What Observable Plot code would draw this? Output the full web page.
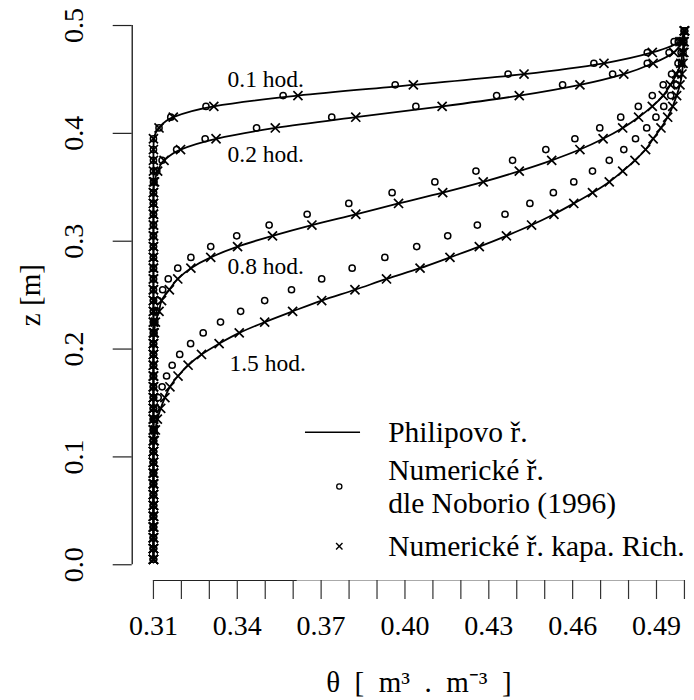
<!DOCTYPE html>
<html><head><meta charset="utf-8">
<script src="https://cdn.jsdelivr.net/npm/d3@7"></script>
<script src="https://cdn.jsdelivr.net/npm/@observablehq/plot@0.6"></script>
<style>body{margin:0;background:#fff;} #chart svg{display:block}</style>
</head><body><div id="chart"></div>
<script>
// depth levels (top to bottom), m
const zLevels = [
0.495,0.485,0.475,0.465,0.455,0.445,0.435,0.425,0.415,0.405,
0.395,0.385,0.375,0.365,0.355,0.345,0.335,0.325,0.315,0.305,
0.295,0.285,0.275,0.265,0.255,0.245,0.235,0.225,0.215,0.205,
0.195,0.185,0.175,0.165,0.155,0.145,0.135,0.125,0.115,0.105,
0.095,0.085,0.075,0.065,0.055,0.045,0.035,0.025,0.015,0.005];

const times = ["0.1 hod.", "0.2 hod.", "0.8 hod.", "1.5 hod."];

// Philip solution (line)
const philip01 = [
0.500,0.4982,0.4885,0.4712,0.4426,0.4030,0.3617,0.3316,0.3171,0.3120,
0.3102,0.310,0.310,0.310,0.310,0.310,0.310,0.310,0.310,0.310,
0.310,0.310,0.310,0.310,0.310,0.310,0.310,0.310,0.310,0.310,
0.310,0.310,0.310,0.310,0.310,0.310,0.310,0.310,0.310,0.310,
0.310,0.310,0.310,0.310,0.310,0.310,0.310,0.310,0.310,0.310];
const philip02 = [
0.500,0.4991,0.4962,0.4888,0.4783,0.4626,0.4409,0.4133,0.3824,0.3536,
0.3324,0.3197,0.3138,0.3115,0.3104,0.310,0.310,0.310,0.310,0.310,
0.310,0.310,0.310,0.310,0.310,0.310,0.310,0.310,0.310,0.310,
0.310,0.310,0.310,0.310,0.310,0.310,0.310,0.310,0.310,0.310,
0.310,0.310,0.310,0.310,0.310,0.310,0.310,0.310,0.310,0.310];
const philip08 = [
0.500,0.4997,0.4993,0.4987,0.4972,0.4950,0.4924,0.4885,0.4836,0.4779,
0.4709,0.4626,0.4525,0.4409,0.4280,0.4135,0.3977,0.3824,0.3667,0.3526,
0.3401,0.3305,0.3234,0.3187,0.3157,0.3129,0.3120,0.3107,0.3103,0.310,
0.310,0.310,0.310,0.310,0.310,0.310,0.310,0.310,0.310,0.310,
0.310,0.310,0.310,0.310,0.310,0.310,0.310,0.310,0.310,0.310];
const philip15 = [
0.500,0.4999,0.4998,0.4995,0.4991,0.4984,0.4972,0.4958,0.4940,0.4916,
0.4888,0.4861,0.4823,0.4779,0.4731,0.4671,0.4604,0.4533,0.4453,0.4363,
0.4266,0.4161,0.4054,0.3934,0.3821,0.3702,0.3598,0.3498,0.3407,0.3335,
0.3272,0.3224,0.3188,0.3159,0.3141,0.3126,0.3114,0.3107,0.3103,0.310,
0.310,0.310,0.310,0.310,0.310,0.310,0.310,0.310,0.310,0.310];

// Numerical solution after Noborio (1996) (circles)
const noborio01 = [
0.500,0.4963,0.4867,0.4676,0.4369,0.3965,0.3564,0.3288,0.3162,0.3120,
0.310,0.310,0.310,0.310,0.310,0.310,0.310,0.310,0.310,0.310,
0.310,0.310,0.310,0.310,0.310,0.310,0.310,0.310,0.310,0.310,
0.310,0.310,0.310,0.310,0.310,0.310,0.310,0.310,0.310,0.310,
0.310,0.310,0.310,0.310,0.310,0.310,0.310,0.310,0.310,0.310];
const noborio02 = [
0.500,0.4978,0.4945,0.4867,0.4743,0.4564,0.4328,0.4039,0.3738,0.3469,
0.3285,0.3183,0.3131,0.3112,0.3102,0.310,0.310,0.310,0.310,0.310,
0.310,0.310,0.310,0.310,0.310,0.310,0.310,0.310,0.310,0.310,
0.310,0.310,0.310,0.310,0.310,0.310,0.310,0.310,0.310,0.310,
0.310,0.310,0.310,0.310,0.310,0.310,0.310,0.310,0.310,0.310];
const noborio08 = [
0.500,0.4995,0.4988,0.4977,0.4954,0.4924,0.4885,0.4835,0.4772,0.4697,
0.4608,0.4504,0.4385,0.4254,0.4107,0.3954,0.3799,0.3650,0.3514,0.3398,
0.3305,0.3234,0.3187,0.3153,0.3133,0.3117,0.3111,0.3105,0.3102,0.310,
0.310,0.310,0.310,0.310,0.310,0.310,0.310,0.310,0.310,0.310,
0.310,0.310,0.310,0.310,0.310,0.310,0.310,0.310,0.310,0.310];
const noborio15 = [
0.500,0.4998,0.4995,0.4990,0.4982,0.4972,0.4951,0.4926,0.4898,0.4865,
0.4825,0.4783,0.4731,0.4671,0.4604,0.4531,0.4447,0.4358,0.4259,0.4153,
0.4042,0.3928,0.3811,0.3702,0.3594,0.3498,0.3412,0.3340,0.3278,0.3233,
0.3194,0.3167,0.3147,0.3131,0.3117,0.3109,0.3105,0.3102,0.310,0.310,
0.310,0.310,0.310,0.310,0.310,0.310,0.310,0.310,0.310,0.310];

// Numerical solution, capacity form of Richards eq. (crosses)
const rich01 = [
0.500,0.4984,0.4885,0.4712,0.4426,0.4030,0.3617,0.3316,0.3171,0.3120,
0.310,0.310,0.310,0.310,0.310,0.310,0.310,0.310,0.310,0.310,
0.310,0.310,0.310,0.310,0.310,0.310,0.310,0.310,0.310,0.310,
0.310,0.310,0.310,0.310,0.310,0.310,0.310,0.310,0.310,0.310,
0.310,0.310,0.310,0.310,0.310,0.310,0.310,0.310,0.310,0.310];
const rich02 = [
0.500,0.4991,0.4962,0.4888,0.4783,0.4626,0.4409,0.4133,0.3824,0.3536,
0.3324,0.3197,0.3138,0.3115,0.3104,0.310,0.310,0.310,0.310,0.310,
0.310,0.310,0.310,0.310,0.310,0.310,0.310,0.310,0.310,0.310,
0.310,0.310,0.310,0.310,0.310,0.310,0.310,0.310,0.310,0.310,
0.310,0.310,0.310,0.310,0.310,0.310,0.310,0.310,0.310,0.310];
const rich08 = [
0.500,0.4997,0.4993,0.4987,0.4972,0.4950,0.4924,0.4885,0.4836,0.4779,
0.4709,0.4626,0.4525,0.4409,0.4280,0.4135,0.3977,0.3824,0.3667,0.3526,
0.3401,0.3305,0.3234,0.3187,0.3157,0.3129,0.3120,0.3107,0.3103,0.310,
0.310,0.310,0.310,0.310,0.310,0.310,0.310,0.310,0.310,0.310,
0.310,0.310,0.310,0.310,0.310,0.310,0.310,0.310,0.310,0.310];
const rich15 = [
0.500,0.4999,0.4998,0.4995,0.4991,0.4984,0.4972,0.4958,0.4940,0.4916,
0.4888,0.4861,0.4823,0.4779,0.4731,0.4671,0.4604,0.4533,0.4453,0.4363,
0.4266,0.4161,0.4054,0.3934,0.3821,0.3702,0.3598,0.3498,0.3407,0.3335,
0.3272,0.3224,0.3188,0.3159,0.3141,0.3126,0.3114,0.3107,0.3103,0.310,
0.310,0.310,0.310,0.310,0.310,0.310,0.310,0.310,0.310,0.310];

// axis ticks and labels
const xTicks = [0.31,0.32,0.33,0.34,0.35,0.36,0.37,0.38,0.39,0.40,0.41,0.42,0.43,0.44,0.45,0.46,0.47,0.48,0.49,0.50];
const xTickLabels = ["0.31","0.34","0.37","0.40","0.43","0.46","0.49"];
const yTicks = [0.0,0.1,0.2,0.3,0.4,0.5];
const yTickLabels = ["0.0","0.1","0.2","0.3","0.4","0.5"];
const xTitle = "θ\u2002[\u2002m³\u2002.\u2002m⁻³\u2002]";
const yTitle = "z [m]";
const legendLabels = ["Philipovo ř.", "Numerické ř.", "dle Noborio (1996)", "Numerické ř. kapa. Rich."];

// annotation anchors (data coordinates)
const curveLabelPos = [
  {x: 0.3365, y: 0.4499}, {x: 0.3365, y: 0.3808}, {x: 0.3365, y: 0.2768}, {x: 0.3372, y: 0.1863}
];
const legendPos = {
  lineX1: 0.3644, lineX2: 0.3841, symX: 0.3765, textX: 0.3940,
  rowY: [0.1229, 0.0874, 0.0568, 0.0172], circleY: 0.0725, crossY: 0.0172
};

const FONT = "Liberation Serif";
const xDomain = [0.3024, 0.5036];
const yDomain = [-0.0146, 0.5232];

function rowsOf(arrs) {
  return times.flatMap((t, i) => zLevels.map((z, k) => ({time: t, z, theta: arrs[i][k]})));
}
const philipRows = rowsOf([philip01, philip02, philip08, philip15]).sort((a, b) => a.z - b.z);
const noborioRows = rowsOf([noborio01, noborio02, noborio08, noborio15]);
const richRows = rowsOf([rich01, rich02, rich08, rich15]);

const curveLabels = times.map((t, i) => ({text: t, ...curveLabelPos[i]}));
const legendTexts = legendLabels.map((t, i) => ({text: t, x: legendPos.textX, y: legendPos.rowY[i]}));

const chart = Plot.plot({
  width: 694, height: 700,
  marginLeft: 131.7, marginRight: 0, marginTop: 0, marginBottom: 120,
  x: {domain: xDomain},
  y: {domain: yDomain},
  style: {fontFamily: FONT, fontSize: "28px", background: "white", color: "black"},
  marks: [
    // axes
    Plot.ruleX([xDomain[0]], {y1: yTicks[0], y2: yTicks[yTicks.length - 1], stroke: "black", strokeWidth: 1.2}),
    Plot.ruleY([yDomain[0]], {x1: xTicks[0], x2: 0.3615, stroke: "#222", strokeWidth: 1.2}),
    Plot.ruleY([yDomain[0]], {x1: 0.3615, x2: xTicks[xTicks.length - 1], stroke: "#aaa", strokeWidth: 1.2}),
    Plot.axisX({ticks: xTicks, tickSize: 19, tickFormat: () => "", label: null, stroke: "#333", strokeWidth: 1.2}),
    Plot.axisY({ticks: yTicks, tickSize: 19, tickFormat: () => "", label: null, stroke: "#222", strokeWidth: 1.2}),
    Plot.text(xTickLabels, {x: d => +d, text: d => d, frameAnchor: "bottom", lineAnchor: "middle", dy: 46, fontSize: 28, fill: "black"}),
    Plot.text(yTickLabels, {y: d => +d, text: d => d, frameAnchor: "left", textAnchor: "middle", lineAnchor: "middle", dx: -58, rotate: -90, fontSize: 28, fill: "black"}),
    Plot.text([xTitle], {x: () => (xTicks[0] + xTicks[xTicks.length - 1]) / 2, frameAnchor: "bottom", lineAnchor: "middle", dy: 102, fontSize: 29, fill: "black"}),
    Plot.text([yTitle], {y: () => (yTicks[0] + yTicks[yTicks.length - 1]) / 2, frameAnchor: "left", textAnchor: "middle", lineAnchor: "middle", dx: -101, rotate: -90, fontSize: 29, fill: "black"}),
    // data
    Plot.line(philipRows, {x: "theta", y: "z", z: "time", curve: "monotone-y", stroke: "black", strokeWidth: 1.8}),
    Plot.dot(noborioRows, {x: "theta", y: "z", symbol: "circle", r: 3.1, stroke: "black", strokeWidth: 1.5, fill: "none"}),
    Plot.dot(richRows, {x: "theta", y: "z", symbol: "times", r: 4.2, stroke: "black", strokeWidth: 1.7}),
    // curve labels
    Plot.text(curveLabels, {x: "x", y: "y", text: "text", textAnchor: "start", fontSize: 23.5, fill: "black"}),
    // legend
    Plot.ruleY([legendPos.rowY[0]], {x1: legendPos.lineX1, x2: legendPos.lineX2, stroke: "black", strokeWidth: 1.5}),
    Plot.dot([legendPos.circleY], {x: () => legendPos.symX, y: d => d, symbol: "circle", r: 2.6, stroke: "black", strokeWidth: 1.3}),
    Plot.dot([legendPos.crossY], {x: () => legendPos.symX, y: d => d, symbol: "times", r: 3, stroke: "black", strokeWidth: 1.4}),
    Plot.text(legendTexts, {x: "x", y: "y", text: "text", textAnchor: "start", fontSize: 29.5, fill: "black"})
  ]
});
document.getElementById("chart").appendChild(chart);
</script></body></html>
